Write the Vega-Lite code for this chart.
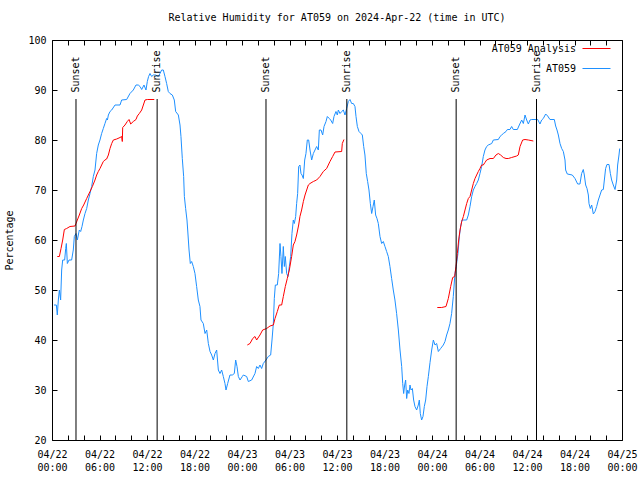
{
  "$schema": "https://vega.github.io/schema/vega-lite/v6.json",
  "width": 570,
  "height": 400,
  "autosize": "none",
  "padding": {"left": 52, "top": 40, "right": 18, "bottom": 40},
  "background": "white",
  "title": {"text": "Relative Humidity for AT059 on 2024-Apr-22 (time in UTC)", "font": "DejaVu Sans Mono", "fontSize": 10, "fontWeight": "normal", "offset": 11, "anchor": "middle", "color": "black"},
  "config": {
    "view": {"stroke": "black", "strokeWidth": 1},
    "axis": {"labelFont": "DejaVu Sans Mono", "labelFontSize": 10, "labelColor": "black", "titleFont": "DejaVu Sans Mono", "titleFontSize": 10, "titleFontWeight": "normal", "titleColor": "black", "tickColor": "black", "tickSize": -5, "domain": false, "grid": false},
    "legend": {"labelFont": "DejaVu Sans Mono", "labelFontSize": 10, "labelColor": "black"}
  },
  "datasets": {
    "blue": [
      {"t":0.25,"rh":47},{"t":0.55,"rh":47},{"t":0.67,"rh":45},{"t":0.8,"rh":48},{"t":0.93,"rh":50},{"t":1.09,"rh":48},{"t":1.22,"rh":54},{"t":1.35,"rh":56},{"t":1.6,"rh":56},{"t":1.73,"rh":58.3},{"t":1.81,"rh":59.3},{"t":1.94,"rh":55.3},{"t":2.15,"rh":56},{"t":2.48,"rh":56},{"t":2.69,"rh":58},{"t":2.82,"rh":60.7},{"t":3.03,"rh":61.3},{"t":3.2,"rh":60},{"t":3.45,"rh":62},{"t":3.62,"rh":61.7},{"t":3.79,"rh":62.7},{"t":3.96,"rh":64},{"t":4.17,"rh":65.3},{"t":4.38,"rh":66.3},{"t":4.59,"rh":68},{"t":4.8,"rh":69.3},{"t":5.01,"rh":70.7},{"t":5.22,"rh":72.7},{"t":5.43,"rh":74},{"t":5.64,"rh":77.3},{"t":5.85,"rh":79},{"t":6.06,"rh":80},{"t":6.27,"rh":81.3},{"t":6.48,"rh":82.3},{"t":6.69,"rh":83.3},{"t":6.9,"rh":84.3},{"t":7.0,"rh":84},{"t":7.12,"rh":85},{"t":7.33,"rh":85.7},{"t":7.54,"rh":86},{"t":7.96,"rh":87},{"t":8.59,"rh":87},{"t":8.8,"rh":88},{"t":9.43,"rh":88.1},{"t":9.85,"rh":89.3},{"t":10.27,"rh":90},{"t":10.61,"rh":91},{"t":10.9,"rh":91},{"t":11.12,"rh":90.7},{"t":11.33,"rh":90.1},{"t":11.62,"rh":91},{"t":11.87,"rh":90},{"t":12.04,"rh":91.7},{"t":12.2,"rh":92.7},{"t":12.38,"rh":93.3},{"t":12.59,"rh":92.7},{"t":12.8,"rh":93},{"t":13.1,"rh":93},{"t":13.43,"rh":92.7},{"t":13.64,"rh":93.3},{"t":13.85,"rh":94},{"t":14.06,"rh":94},{"t":14.27,"rh":92.7},{"t":14.48,"rh":91.3},{"t":14.69,"rh":89.7},{"t":14.9,"rh":89.3},{"t":15.2,"rh":89},{"t":15.45,"rh":88},{"t":15.62,"rh":85.7},{"t":15.96,"rh":85},{"t":16.17,"rh":83},{"t":16.29,"rh":80.7},{"t":16.46,"rh":76.3},{"t":16.63,"rh":72.7},{"t":16.72,"rh":68.7},{"t":16.88,"rh":66.3},{"t":17.05,"rh":64},{"t":17.14,"rh":62},{"t":17.31,"rh":58},{"t":17.47,"rh":55.3},{"t":17.64,"rh":55.7},{"t":17.85,"rh":54.7},{"t":18.06,"rh":53.3},{"t":18.27,"rh":50.7},{"t":18.48,"rh":48},{"t":18.69,"rh":46.7},{"t":18.82,"rh":44},{"t":19.11,"rh":43.3},{"t":19.33,"rh":41.3},{"t":19.54,"rh":42},{"t":19.75,"rh":39.3},{"t":19.96,"rh":37.7},{"t":20.17,"rh":37},{"t":20.38,"rh":36},{"t":20.59,"rh":37.3},{"t":20.8,"rh":38},{"t":21.01,"rh":34},{"t":21.22,"rh":33.3},{"t":21.43,"rh":34},{"t":21.64,"rh":32.7},{"t":21.85,"rh":31.3},{"t":21.98,"rh":30},{"t":22.19,"rh":31.3},{"t":22.48,"rh":33},{"t":22.78,"rh":33},{"t":23.03,"rh":33.3},{"t":23.2,"rh":36},{"t":23.37,"rh":34.7},{"t":23.54,"rh":32.7},{"t":23.75,"rh":32},{"t":24.04,"rh":32.7},{"t":24.17,"rh":33},{"t":24.59,"rh":32.7},{"t":24.8,"rh":31.7},{"t":25.22,"rh":32},{"t":25.64,"rh":33.3},{"t":25.85,"rh":34.7},{"t":26.06,"rh":34.3},{"t":26.27,"rh":35},{"t":26.48,"rh":34.3},{"t":26.69,"rh":35.3},{"t":27.03,"rh":36},{"t":27.32,"rh":36.7},{"t":27.62,"rh":37},{"t":27.79,"rh":40},{"t":27.96,"rh":43.3},{"t":28.08,"rh":48.3},{"t":28.21,"rh":51},{"t":28.46,"rh":51},{"t":28.63,"rh":53.3},{"t":28.8,"rh":59.3},{"t":28.92,"rh":56.7},{"t":29.05,"rh":53.3},{"t":29.22,"rh":58.7},{"t":29.35,"rh":54.7},{"t":29.47,"rh":56.7},{"t":29.64,"rh":53.3},{"t":29.81,"rh":52.7},{"t":29.98,"rh":54.7},{"t":30.15,"rh":56.7},{"t":30.31,"rh":61.3},{"t":30.48,"rh":64},{"t":30.61,"rh":63.3},{"t":30.78,"rh":64.7},{"t":30.9,"rh":67.3},{"t":31.03,"rh":69.3},{"t":31.16,"rh":74.7},{"t":31.32,"rh":75},{"t":31.45,"rh":73.3},{"t":31.58,"rh":73},{"t":31.75,"rh":72.3},{"t":31.92,"rh":76},{"t":32.08,"rh":77.3},{"t":32.25,"rh":80},{"t":32.42,"rh":80},{"t":32.59,"rh":78},{"t":32.8,"rh":76},{"t":33.01,"rh":77.3},{"t":33.22,"rh":78},{"t":33.43,"rh":78.7},{"t":33.64,"rh":78},{"t":33.77,"rh":82},{"t":33.98,"rh":82},{"t":34.19,"rh":81},{"t":34.36,"rh":82.7},{"t":34.61,"rh":83.7},{"t":34.78,"rh":84.7},{"t":35.03,"rh":84.3},{"t":35.2,"rh":84},{"t":35.45,"rh":83.3},{"t":35.62,"rh":84.7},{"t":35.87,"rh":85.7},{"t":36.04,"rh":85},{"t":36.17,"rh":86},{"t":36.38,"rh":85.3},{"t":36.59,"rh":85.7},{"t":36.8,"rh":86},{"t":37.01,"rh":85},{"t":37.22,"rh":86.3},{"t":37.43,"rh":87.7},{"t":37.64,"rh":88.1},{"t":37.85,"rh":87.3},{"t":38.06,"rh":87.3},{"t":38.27,"rh":86.7},{"t":38.4,"rh":84.7},{"t":38.57,"rh":82.7},{"t":38.78,"rh":81.7},{"t":39.03,"rh":81.3},{"t":39.2,"rh":81},{"t":39.37,"rh":78.7},{"t":39.53,"rh":77},{"t":39.7,"rh":73.3},{"t":39.87,"rh":71.7},{"t":40.04,"rh":70},{"t":40.21,"rh":67.3},{"t":40.38,"rh":65.3},{"t":40.55,"rh":66.7},{"t":40.71,"rh":68},{"t":40.88,"rh":65},{"t":41.05,"rh":64.3},{"t":41.22,"rh":63.3},{"t":41.43,"rh":60.7},{"t":41.64,"rh":59.3},{"t":41.85,"rh":59.7},{"t":42.06,"rh":58.7},{"t":42.27,"rh":57.7},{"t":42.48,"rh":56.7},{"t":42.69,"rh":54.7},{"t":42.9,"rh":52.3},{"t":43.11,"rh":50},{"t":43.32,"rh":48},{"t":43.53,"rh":45.3},{"t":43.75,"rh":42},{"t":43.96,"rh":38},{"t":44.17,"rh":34.7},{"t":44.3,"rh":31.3},{"t":44.42,"rh":29.3},{"t":44.55,"rh":31},{"t":44.67,"rh":32},{"t":44.8,"rh":28.3},{"t":44.93,"rh":30},{"t":45.09,"rh":29.3},{"t":45.22,"rh":31},{"t":45.35,"rh":30},{"t":45.52,"rh":30.3},{"t":45.68,"rh":28},{"t":45.85,"rh":26.7},{"t":46.06,"rh":26},{"t":46.27,"rh":27},{"t":46.4,"rh":28},{"t":46.52,"rh":25.3},{"t":46.69,"rh":24},{"t":46.86,"rh":24.7},{"t":47.03,"rh":26.7},{"t":47.2,"rh":28},{"t":47.37,"rh":30.7},{"t":47.54,"rh":32.7},{"t":47.75,"rh":35.5},{"t":47.96,"rh":38},{"t":48.17,"rh":40},{"t":48.38,"rh":39},{"t":48.59,"rh":39.3},{"t":48.8,"rh":37.7},{"t":49.09,"rh":38.3},{"t":49.43,"rh":39},{"t":49.64,"rh":39.7},{"t":49.85,"rh":41},{"t":50.06,"rh":42},{"t":50.27,"rh":43.3},{"t":50.48,"rh":45.3},{"t":50.69,"rh":48.7},{"t":50.9,"rh":53.3},{"t":51.11,"rh":55.3},{"t":51.28,"rh":57.3},{"t":51.45,"rh":60.7},{"t":51.62,"rh":62.7},{"t":51.79,"rh":64},{"t":52.38,"rh":64},{"t":52.59,"rh":65},{"t":52.8,"rh":66.7},{"t":53.01,"rh":68.7},{"t":53.22,"rh":70},{"t":53.43,"rh":70.7},{"t":53.64,"rh":71.3},{"t":53.85,"rh":72},{"t":54.06,"rh":73.3},{"t":54.27,"rh":74.7},{"t":54.48,"rh":76.7},{"t":54.69,"rh":78},{"t":54.9,"rh":78.7},{"t":55.11,"rh":79},{"t":55.54,"rh":79.3},{"t":55.75,"rh":80},{"t":56.38,"rh":80.1},{"t":56.59,"rh":80.7},{"t":56.8,"rh":81},{"t":57.01,"rh":81.3},{"t":57.35,"rh":81.7},{"t":57.52,"rh":82.1},{"t":57.85,"rh":82.1},{"t":58.06,"rh":82.7},{"t":58.27,"rh":82.1},{"t":58.78,"rh":82.1},{"t":59.03,"rh":83},{"t":59.33,"rh":84},{"t":59.54,"rh":83.3},{"t":59.75,"rh":85},{"t":59.96,"rh":84},{"t":60.17,"rh":83.2},{"t":60.38,"rh":84},{"t":60.59,"rh":84.1},{"t":61.35,"rh":84.1},{"t":61.64,"rh":83.2},{"t":61.85,"rh":84},{"t":62.06,"rh":84.3},{"t":62.36,"rh":85.2},{"t":62.61,"rh":84.8},{"t":62.9,"rh":84.1},{"t":63.45,"rh":84.1},{"t":63.62,"rh":82.8},{"t":63.79,"rh":82},{"t":63.96,"rh":81},{"t":64.17,"rh":79.3},{"t":64.38,"rh":78.3},{"t":64.59,"rh":77.7},{"t":64.8,"rh":76},{"t":64.88,"rh":74},{"t":65.09,"rh":73.2},{"t":65.72,"rh":73},{"t":66.06,"rh":72.3},{"t":66.4,"rh":71.2},{"t":66.69,"rh":71.2},{"t":66.9,"rh":73.3},{"t":67.11,"rh":74.1},{"t":67.24,"rh":73},{"t":67.41,"rh":71},{"t":67.58,"rh":70.3},{"t":67.75,"rh":69},{"t":67.83,"rh":67.3},{"t":68.0,"rh":66.3},{"t":68.17,"rh":67},{"t":68.38,"rh":65.2},{"t":68.59,"rh":65.7},{"t":68.8,"rh":66.7},{"t":69.01,"rh":68},{"t":69.22,"rh":69},{"t":69.43,"rh":70},{"t":69.64,"rh":70.1},{"t":69.77,"rh":72},{"t":69.93,"rh":74.3},{"t":70.1,"rh":75.1},{"t":70.36,"rh":75.1},{"t":70.53,"rh":73.3},{"t":70.69,"rh":72},{"t":70.9,"rh":71},{"t":71.12,"rh":70.1},{"t":71.33,"rh":72},{"t":71.45,"rh":75},{"t":71.62,"rh":77},{"t":71.71,"rh":78.3}
    ],
    "red": [
      {"t":0.67,"rh":56.7,"run":"a"},{"t":0.93,"rh":56.7,"run":"a"},{"t":1.14,"rh":58.3,"run":"a"},{"t":1.35,"rh":60,"run":"a"},{"t":1.56,"rh":62.1,"run":"a"},{"t":1.85,"rh":62.3,"run":"a"},{"t":2.27,"rh":62.7,"run":"a"},{"t":2.9,"rh":62.8,"run":"a"},{"t":3.03,"rh":63.3,"run":"a"},{"t":3.2,"rh":64,"run":"a"},{"t":3.45,"rh":65,"run":"a"},{"t":3.75,"rh":66.3,"run":"a"},{"t":4.0,"rh":67,"run":"a"},{"t":4.38,"rh":68.3,"run":"a"},{"t":4.8,"rh":69.7,"run":"a"},{"t":5.1,"rh":70.7,"run":"a"},{"t":5.43,"rh":72,"run":"a"},{"t":5.64,"rh":73,"run":"a"},{"t":5.85,"rh":73.7,"run":"a"},{"t":6.06,"rh":74.3,"run":"a"},{"t":6.27,"rh":75,"run":"a"},{"t":6.48,"rh":75.7,"run":"a"},{"t":6.69,"rh":76,"run":"a"},{"t":6.9,"rh":76.2,"run":"a"},{"t":7.12,"rh":77,"run":"a"},{"t":7.33,"rh":78.3,"run":"a"},{"t":7.54,"rh":79.3,"run":"a"},{"t":7.75,"rh":80,"run":"a"},{"t":8.17,"rh":80.2,"run":"a"},{"t":8.59,"rh":80.5,"run":"a"},{"t":8.8,"rh":80.7,"run":"a"},{"t":8.88,"rh":79.7,"run":"a"},{"t":8.93,"rh":82.5,"run":"a"},{"t":9.22,"rh":83,"run":"a"},{"t":9.51,"rh":83.7,"run":"a"},{"t":9.73,"rh":84.1,"run":"a"},{"t":9.94,"rh":83.2,"run":"a"},{"t":10.27,"rh":83.7,"run":"a"},{"t":10.61,"rh":84.1,"run":"a"},{"t":10.78,"rh":84.8,"run":"a"},{"t":11.03,"rh":85.3,"run":"a"},{"t":11.33,"rh":86,"run":"a"},{"t":11.54,"rh":87,"run":"a"},{"t":11.75,"rh":88,"run":"a"},{"t":12.04,"rh":88.1,"run":"a"},{"t":12.92,"rh":88.1,"run":"a"},
      {"t":24.67,"rh":39,"run":"b"},{"t":25.01,"rh":39.3,"run":"b"},{"t":25.35,"rh":40.3,"run":"b"},{"t":25.64,"rh":40.7,"run":"b"},{"t":25.85,"rh":40,"run":"b"},{"t":26.27,"rh":41,"run":"b"},{"t":26.61,"rh":42,"run":"b"},{"t":27.11,"rh":42.3,"run":"b"},{"t":27.54,"rh":42.8,"run":"b"},{"t":27.96,"rh":43,"run":"b"},{"t":28.17,"rh":44.3,"run":"b"},{"t":28.46,"rh":45.7,"run":"b"},{"t":28.71,"rh":47,"run":"b"},{"t":29.01,"rh":47,"run":"b"},{"t":29.22,"rh":48.7,"run":"b"},{"t":29.47,"rh":50.7,"run":"b"},{"t":29.72,"rh":52.3,"run":"b"},{"t":29.98,"rh":54,"run":"b"},{"t":30.27,"rh":56.7,"run":"b"},{"t":30.48,"rh":59,"run":"b"},{"t":30.69,"rh":59.7,"run":"b"},{"t":30.9,"rh":61,"run":"b"},{"t":31.16,"rh":63,"run":"b"},{"t":31.32,"rh":64.7,"run":"b"},{"t":31.53,"rh":66,"run":"b"},{"t":31.75,"rh":67.7,"run":"b"},{"t":31.96,"rh":69,"run":"b"},{"t":32.17,"rh":70,"run":"b"},{"t":32.38,"rh":71,"run":"b"},{"t":32.59,"rh":71.3,"run":"b"},{"t":33.01,"rh":71.7,"run":"b"},{"t":33.43,"rh":72,"run":"b"},{"t":33.85,"rh":72.7,"run":"b"},{"t":34.27,"rh":73.7,"run":"b"},{"t":34.69,"rh":74.3,"run":"b"},{"t":35.11,"rh":75.7,"run":"b"},{"t":35.45,"rh":76.7,"run":"b"},{"t":35.75,"rh":77.6,"run":"b"},{"t":36.59,"rh":77.7,"run":"b"},{"t":36.67,"rh":79.3,"run":"b"},{"t":36.88,"rh":80.1,"run":"b"},
      {"t":48.67,"rh":46.5,"run":"c"},{"t":49.22,"rh":46.5,"run":"c"},{"t":49.77,"rh":46.7,"run":"c"},{"t":50.06,"rh":48.3,"run":"c"},{"t":50.36,"rh":50.7,"run":"c"},{"t":50.61,"rh":52.5,"run":"c"},{"t":50.86,"rh":52.7,"run":"c"},{"t":51.03,"rh":54.7,"run":"c"},{"t":51.2,"rh":57.3,"run":"c"},{"t":51.37,"rh":60,"run":"c"},{"t":51.54,"rh":62,"run":"c"},{"t":51.75,"rh":63.7,"run":"c"},{"t":51.96,"rh":64.7,"run":"c"},{"t":52.17,"rh":66,"run":"c"},{"t":52.38,"rh":67.3,"run":"c"},{"t":52.59,"rh":68.3,"run":"c"},{"t":52.8,"rh":68.7,"run":"c"},{"t":53.01,"rh":70,"run":"c"},{"t":53.22,"rh":71.3,"run":"c"},{"t":53.43,"rh":72.3,"run":"c"},{"t":53.64,"rh":73,"run":"c"},{"t":53.85,"rh":73.7,"run":"c"},{"t":54.06,"rh":74.3,"run":"c"},{"t":54.27,"rh":75,"run":"c"},{"t":54.48,"rh":75,"run":"c"},{"t":54.69,"rh":75.5,"run":"c"},{"t":54.9,"rh":76,"run":"c"},{"t":55.33,"rh":76.3,"run":"c"},{"t":55.75,"rh":76.3,"run":"c"},{"t":56.08,"rh":77,"run":"c"},{"t":56.38,"rh":77.3,"run":"c"},{"t":56.67,"rh":77,"run":"c"},{"t":57.01,"rh":76.5,"run":"c"},{"t":57.35,"rh":76.3,"run":"c"},{"t":57.64,"rh":76.3,"run":"c"},{"t":58.06,"rh":76.5,"run":"c"},{"t":58.69,"rh":76.8,"run":"c"},{"t":58.9,"rh":77,"run":"c"},{"t":59.12,"rh":78.7,"run":"c"},{"t":59.45,"rh":80,"run":"c"},{"t":59.75,"rh":80.1,"run":"c"},{"t":60.17,"rh":80,"run":"c"},{"t":60.8,"rh":79.8,"run":"c"}
    ],
    "sun": [
      {"t":3.03,"label":"Sunset"},{"t":13.28,"label":"Sunrise"},
      {"t":27.03,"label":"Sunset"},{"t":37.24,"label":"Sunrise"},
      {"t":51.05,"label":"Sunset"},{"t":61.2,"label":"Sunrise"}
    ]
  },
  "layer": [
    {
      "data": {"name": "blue"},
      "mark": {"type": "line", "strokeWidth": 1},
      "encoding": {
        "x": {"field": "t", "type": "quantitative", "scale": {"domain": [0, 72], "nice": false, "zero": false},
              "axis": {"orient": "bottom", "title": null, "values": [0,2,4,6,8,10,12,14,16,18,20,22,24,26,28,30,32,34,36,38,40,42,44,46,48,50,52,54,56,58,60,62,64,66,68,70,72],
                       "labelExpr": "datum.value % 6 == 0 ? ['04/' + (22 + floor(datum.value / 24)), ((datum.value % 24) < 10 ? '0' : '') + (datum.value % 24) + ':00'] : ''",
                       "labelPadding": 14, "labelLineHeight": 13, "labelBaseline": "top", "labelFlush": false, "labelOverlap": false}},
        "y": {"field": "rh", "type": "quantitative", "scale": {"domain": [20, 100], "nice": false, "zero": false},
              "axis": {"orient": "left", "title": "Percentage", "values": [20,30,40,50,60,70,80,90,100], "labelPadding": 11, "titlePadding": 13}},
        "color": {"datum": "AT059", "type": "nominal",
                  "scale": {"domain": ["AT059 Analysis", "AT059"], "range": ["#ff0000", "#1e90ff"]},
                  "legend": {"title": null, "orient": "none", "legendX": 530, "legendY": -6, "symbolType": "stroke", "symbolSize": 784, "symbolStrokeWidth": 1, "labelAlign": "right", "labelOffset": -35, "rowPadding": 0}}
      }
    },
    {
      "data": {"name": "red"},
      "mark": {"type": "line", "strokeWidth": 1},
      "encoding": {
        "x": {"field": "t", "type": "quantitative",
              "axis": {"orient": "top", "title": null, "labels": false, "values": [0,2,4,6,8,10,12,14,16,18,20,22,24,26,28,30,32,34,36,38,40,42,44,46,48,50,52,54,56,58,60,62,64,66,68,70,72]}},
        "y": {"field": "rh", "type": "quantitative",
              "axis": {"orient": "right", "title": null, "labels": false, "values": [20,30,40,50,60,70,80,90,100]}},
        "color": {"datum": "AT059 Analysis", "type": "nominal"},
        "detail": {"field": "run"}
      }
    },
    {
      "data": {"name": "sun"},
      "mark": {"type": "rule", "color": "black", "strokeWidth": 1},
      "encoding": {
        "x": {"field": "t", "type": "quantitative", "axis": null},
        "y": {"datum": 20, "type": "quantitative", "axis": null},
        "y2": {"datum": 88.2}
      }
    },
    {
      "data": {"name": "sun"},
      "mark": {"type": "text", "angle": 270, "align": "left", "baseline": "middle", "font": "DejaVu Sans Mono", "fontSize": 10, "color": "black"},
      "encoding": {
        "x": {"field": "t", "type": "quantitative", "axis": null},
        "y": {"datum": 89.5, "type": "quantitative", "axis": null},
        "text": {"field": "label"}
      }
    }
  ],
  "resolve": {"axis": {"x": "independent", "y": "independent"}}
}
